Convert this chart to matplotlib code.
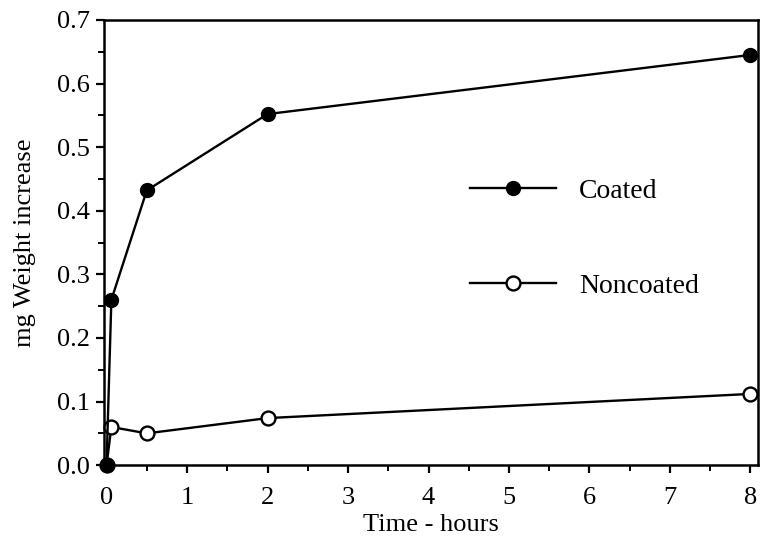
import matplotlib.pyplot as plt
from matplotlib.ticker import MultipleLocator, FormatStrFormatter

# time in hours, weight increase in mg
time_coated = [0, 0.06, 0.5, 2, 8]
coated = [0.0, 0.26, 0.432, 0.552, 0.645]
time_noncoated = [0, 0.06, 0.5, 2, 8]
noncoated = [0.0, 0.06, 0.05, 0.074, 0.112]

plt.rcParams['font.family'] = ['Liberation Serif', 'DejaVu Serif']

fig, ax = plt.subplots(figsize=(7.6, 5.39), dpi=100)
fig.subplots_adjust(left=0.137, right=0.997, bottom=0.137, top=0.963)

ax.plot(time_noncoated, noncoated, color='black', lw=1.7, marker='o',
        ms=10, mfc='white', mec='black', mew=1.7, label='Noncoated',
        zorder=3, clip_on=False)
ax.plot(time_coated, coated, color='black', lw=1.7, marker='o',
        ms=10, mfc='black', mec='black', label='Coated',
        zorder=4, clip_on=False)

ax.set_xlim(-0.03, 8.09)
ax.set_ylim(0, 0.7)

ax.xaxis.set_major_locator(MultipleLocator(1))
ax.xaxis.set_minor_locator(MultipleLocator(0.5))
ax.yaxis.set_major_locator(MultipleLocator(0.1))
ax.yaxis.set_minor_locator(MultipleLocator(0.05))
ax.yaxis.set_major_formatter(FormatStrFormatter('%.1f'))

ax.tick_params(which='major', direction='out', length=6, width=1.6, labelsize=19, pad=4)
ax.tick_params(axis='x', which='major', pad=10)
ax.tick_params(which='minor', direction='out', length=4, width=1.4)
for s in ax.spines.values():
    s.set_linewidth(1.8)

ax.set_xlabel('Time - hours', fontsize=19, labelpad=3)
ax.set_ylabel('mg Weight increase', fontsize=19, labelpad=15)

h, l = ax.get_legend_handles_labels()
ax.legend(h[::-1], l[::-1], loc='upper left', bbox_to_anchor=(0.521, 0.70),
          frameon=False, fontsize=20, handlelength=3.1, handletextpad=0.85,
          labelspacing=2.5)

fig.savefig('out.png', dpi=100)
